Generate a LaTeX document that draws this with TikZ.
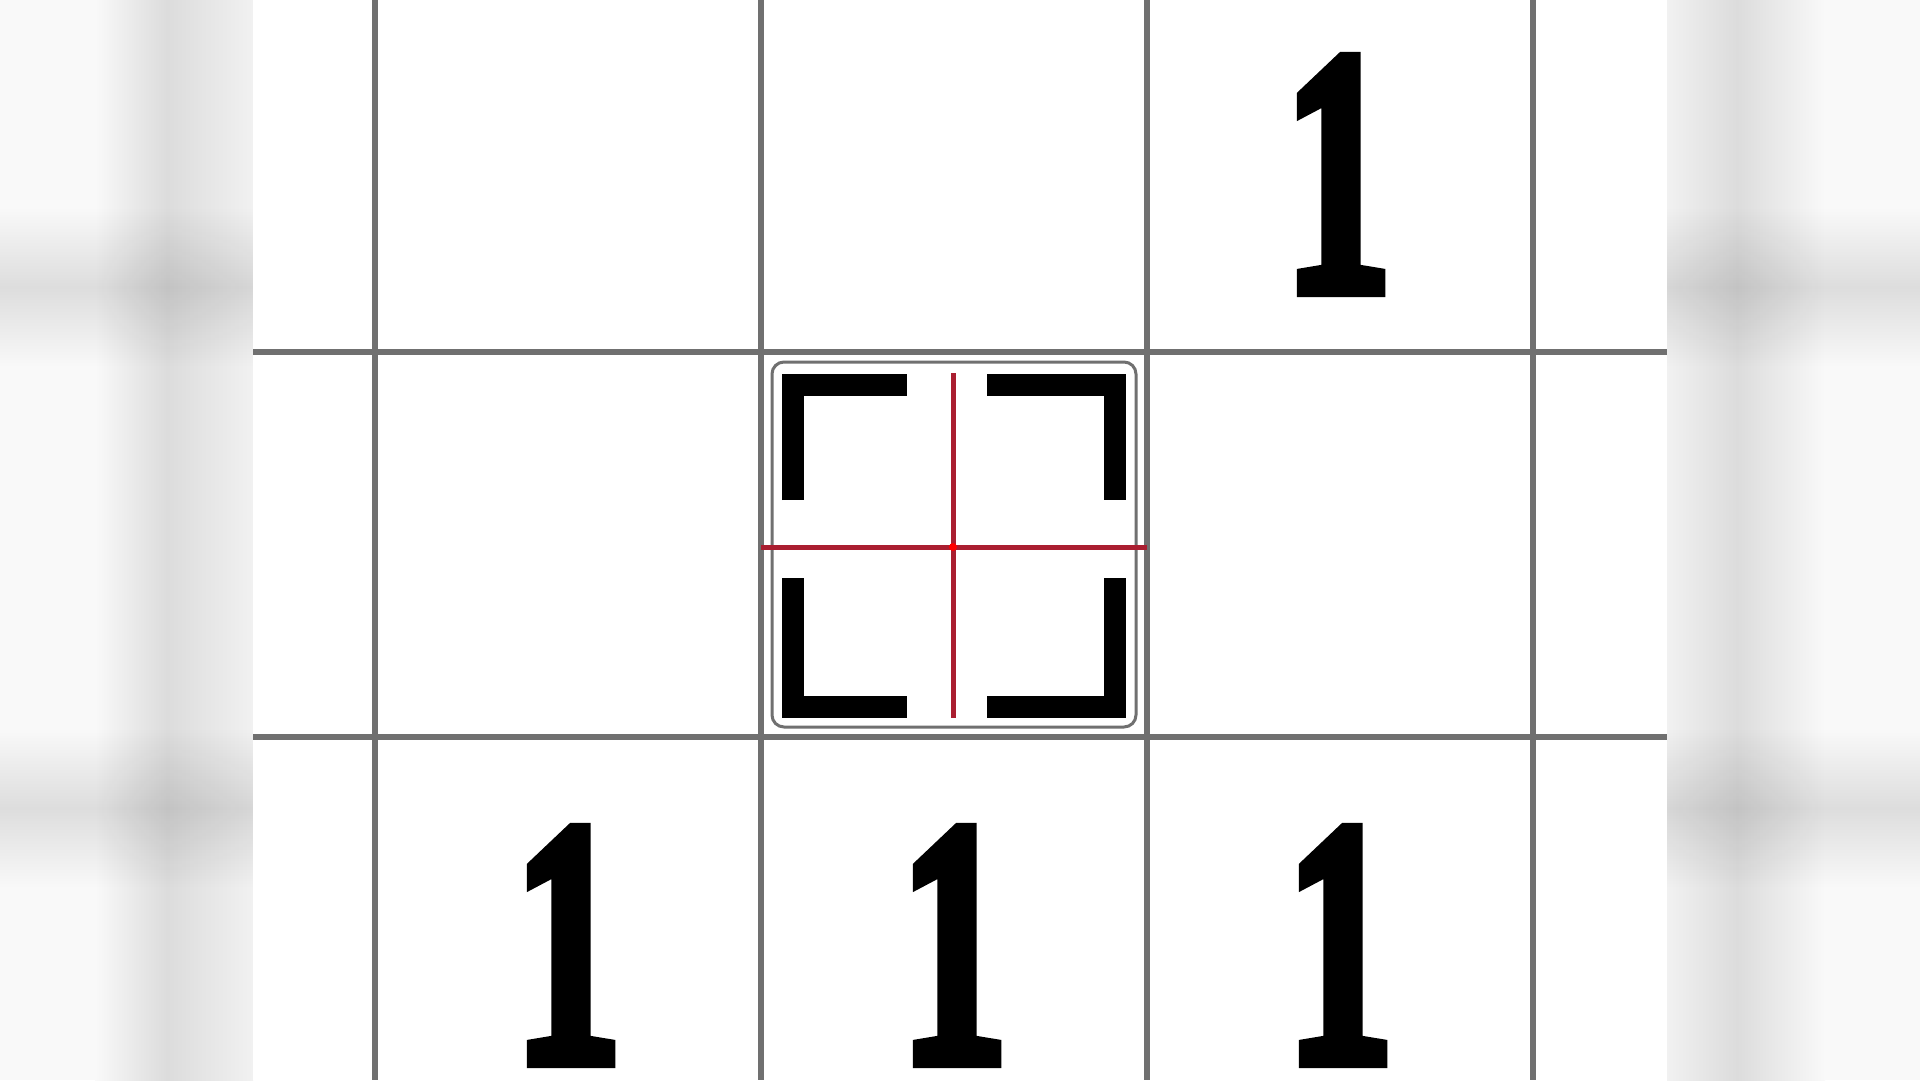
\documentclass[tikz,border=0pt]{standalone}
\usepackage{fontspec}
\newfontfamily\digitfont{Liberation Serif}[BoldFont={* Bold}, BoldFeatures={FakeBold=4}]
\usepackage{tikz}
\usepackage{xcolor}
\definecolor{sidefar}{HTML}{F9F9F9}
\definecolor{sidenear}{HTML}{F1F1F1}
\definecolor{sideband}{HTML}{DCDCDC}
\definecolor{bandshade}{HTML}{E3E3E3}
\definecolor{gridgray}{HTML}{707070}
\definecolor{crossred}{RGB}{170,30,48}
\tikzset{
  gridline/.style={gridgray, line width=6pt},
  bracket/.style={black, line width=22pt},
  crossline/.style={crossred, line width=5pt},
  digit/.style={inner sep=0pt, anchor=base, text depth=0pt, font=\digitfont\bfseries\fontsize{350}{350}\selectfont}
}

\begin{document}
\begin{tikzpicture}[x=1pt, y=-1pt]
    \useasboundingbox (0,0) rectangle (1920,1080);
    % blurred side strips
    \fill[sidefar] (0,0) rectangle (1920,1080);
    \shade[left color=sidefar, right color=sideband] (95,0) rectangle (167,1080);
    \shade[left color=sideband, right color=sidenear] (167,0) rectangle (253,1080);
    \shade[left color=sidenear, right color=sideband] (1667,0) rectangle (1737,1080);
    \shade[left color=sideband, right color=sidefar] (1737,0) rectangle (1825,1080);
    \foreach \y in {287,808}
      \shade[blend mode=multiply, top color=white, bottom color=white, middle color=bandshade] (0,\y-80) rectangle (1920,\y+80);
    % board
    \fill[white] (253,0) rectangle (1667,1080);
    \foreach \x in {375,761,1147,1533}
      \draw[gridline] (\x,0) -- (\x,1080);
    \foreach \y in {352,737}
      \draw[gridline] (253,\y) -- (1667,\y);
    % selected cell
    \draw[gridgray, line width=3pt, rounded corners=12pt] (772,362) rectangle (1136,727);
    \draw[bracket] (793,500) -- (793,385) -- (907,385);
    \draw[bracket] (987,385) -- (1115,385) -- (1115,500);
    \draw[bracket] (793,578) -- (793,707) -- (907,707);
    \draw[bracket] (987,707) -- (1115,707) -- (1115,578);
    \draw[crossline] (953,373) -- (953,718);
    \draw[crossline] (761,547) -- (1147,547);
    \fill[red] (953,547) circle (4pt);
    % numbers
    \node[digit] (one_top) at (1338,290) {\scalebox{0.62}[1]{1}};
    \node[digit] (one_left) at (568,1061) {\scalebox{0.62}[1]{1}};
    \node[digit] (one_mid) at (954,1061) {\scalebox{0.62}[1]{1}};
    \node[digit] (one_right) at (1340,1061) {\scalebox{0.62}[1]{1}};
\end{tikzpicture}
\end{document}
